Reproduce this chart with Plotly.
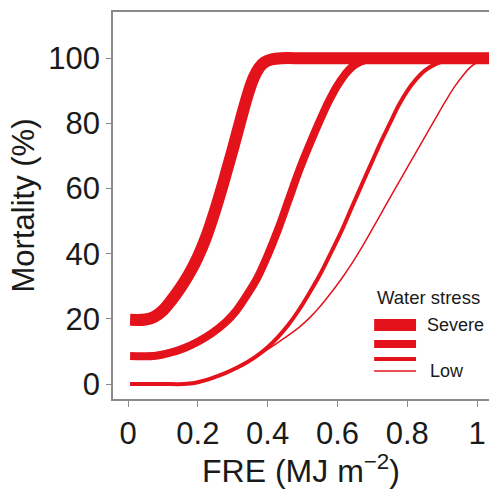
import plotly.graph_objects as go

RED = "#e3121b"
GREY = "#8a8a8a"

# Curve data (FRE in MJ m^-2, mortality in %)
x_severe = [0.006, 0.05, 0.075, 0.1, 0.125, 0.15, 0.175, 0.2, 0.225, 0.25, 0.275, 0.3, 0.325, 0.345, 0.36, 0.375, 0.39, 0.41, 0.44, 0.5, 0.6, 0.8, 1.05]
y_severe = [19.7, 19.8, 20.6, 22.6, 25.8, 29.5, 33.8, 39, 45.5, 53.5, 62.5, 72, 82, 89.5, 94, 97, 98.7, 99.6, 100, 100, 100, 100, 100]

x_high = [0.006, 0.08, 0.12, 0.16, 0.2, 0.24, 0.28, 0.31, 0.34, 0.37, 0.4, 0.43, 0.46, 0.49, 0.52, 0.55, 0.575, 0.6, 0.62, 0.64, 0.665, 0.7, 0.75, 0.85, 1.05]
y_high = [8.6, 8.7, 9.6, 11, 13, 15.6, 19, 22.5, 27.2, 32.5, 39.5, 47.5, 56.5, 65.5, 73.5, 81, 86.8, 91.7, 94.8, 97.2, 98.9, 100, 100, 100, 100]

x_mod = [0.006, 0.1, 0.16, 0.19, 0.22, 0.25, 0.28, 0.31, 0.34, 0.37, 0.4, 0.43, 0.46, 0.49, 0.52, 0.55, 0.58, 0.61, 0.64, 0.67, 0.7, 0.725, 0.75, 0.775, 0.8, 0.825, 0.85, 0.875, 0.9, 0.94, 1.0, 1.05]
y_mod = [0, 0, 0, 0.3, 1.1, 2.2, 3.4, 4.9, 6.6, 8.7, 11.3, 14.5, 18.3, 22.8, 28, 33.6, 40, 46.6, 54, 61.3, 68.5, 74.5, 80, 85.5, 90, 93.5, 96.2, 97.9, 99, 100, 100, 100]

x_low = [0.006, 0.1, 0.16, 0.19, 0.22, 0.25, 0.28, 0.31, 0.34, 0.37, 0.4, 0.43, 0.46, 0.49, 0.52, 0.55, 0.58, 0.61, 0.64, 0.67, 0.7, 0.73, 0.76, 0.79, 0.82, 0.85, 0.88, 0.91, 0.935, 0.96, 0.98, 1.0, 1.025, 1.05]
y_low = [0, 0, 0, 0.3, 1.1, 2.2, 3.4, 4.9, 6.6, 8.5, 10.6, 12.8, 15, 17.4, 20.3, 23.8, 27.8, 32.1, 36.8, 42, 47.6, 53.3, 59, 64.6, 70.2, 75.8, 81.4, 86.9, 91.2, 94.8, 97.2, 98.7, 99.6, 100]

series_names = ["Severe", "High", "Moderate", "Low"]
series_x = [x_severe, x_high, x_mod, x_low]
series_y = [y_severe, y_high, y_mod, y_low]
line_widths = [12, 8, 4, 1.5]

# Legend geometry (data coords)
leg_x0, leg_x1 = 0.705, 0.825
leg_y = [18.1, 12.3, 7.7, 4.0]

x_ticks = [0, 0.2, 0.4, 0.6, 0.8, 1]
x_tick_text = ["0", "0.2", "0.4", "0.6", "0.8", "1"]
y_ticks = [0, 20, 40, 60, 80, 100]

fig = go.Figure()
for name, xs, ys, w in zip(series_names[::-1], series_x[::-1], series_y[::-1], line_widths[::-1]):
    fig.add_trace(go.Scatter(x=xs, y=ys, mode="lines", name=name,
                             line=dict(color=RED, width=w, shape="spline", smoothing=1.0),
                             showlegend=False, hoverinfo="skip"))

# manual legend
for yl, w in zip(leg_y, line_widths):
    fig.add_shape(type="line", x0=leg_x0, x1=leg_x1, y0=yl, y1=yl, xref="x", yref="y",
                  line=dict(color=RED, width=w))

FONT = "Liberation Sans, Arial, sans-serif"
TXT = "#1a1a1a"
fig.add_annotation(x=0.86, y=26.7, xref="x", yref="y", text="Water stress", showarrow=False,
                   font=dict(family=FONT, size=18.5, color=TXT), xanchor="center", yanchor="middle")
fig.add_annotation(x=0.851, y=18.1, xref="x", yref="y", text="Severe", showarrow=False,
                   font=dict(family=FONT, size=18, color=TXT), xanchor="left", yanchor="middle")
fig.add_annotation(x=0.86, y=4.0, xref="x", yref="y", text="Low", showarrow=False,
                   font=dict(family=FONT, size=18, color=TXT), xanchor="left", yanchor="middle")

fig.update_layout(
    width=489, height=489,
    margin=dict(l=113, r=0, t=12, b=90),
    paper_bgcolor="white", plot_bgcolor="white",
    font=dict(family=FONT, color=TXT),
    showlegend=False,
)
fig.update_xaxes(range=[-0.043, 1.034], tickvals=x_ticks, ticktext=x_tick_text,
                 showgrid=False, zeroline=False, showline=True, linecolor=GREY, linewidth=1.5,
                 mirror=True, ticks="outside", ticklen=6, tickcolor=GREY, tickwidth=1,
                 tickfont=dict(size=31, family=FONT, color=TXT),
                 title=dict(text="FRE (MJ m<sup>−2</sup>)", font=dict(size=32, family=FONT, color=TXT), standoff=2))
fig.update_yaxes(range=[-4.6, 114.2], tickvals=y_ticks,
                 showgrid=False, zeroline=False, showline=True, linecolor=GREY, linewidth=1.5,
                 mirror=False, ticks="outside", ticklen=5, tickcolor=GREY, tickwidth=1,
                 tickfont=dict(size=31, family=FONT, color=TXT),
                 title=dict(text="Mortality (%)", font=dict(size=31, family=FONT, color=TXT), standoff=4))

fig.write_html("out.html")
